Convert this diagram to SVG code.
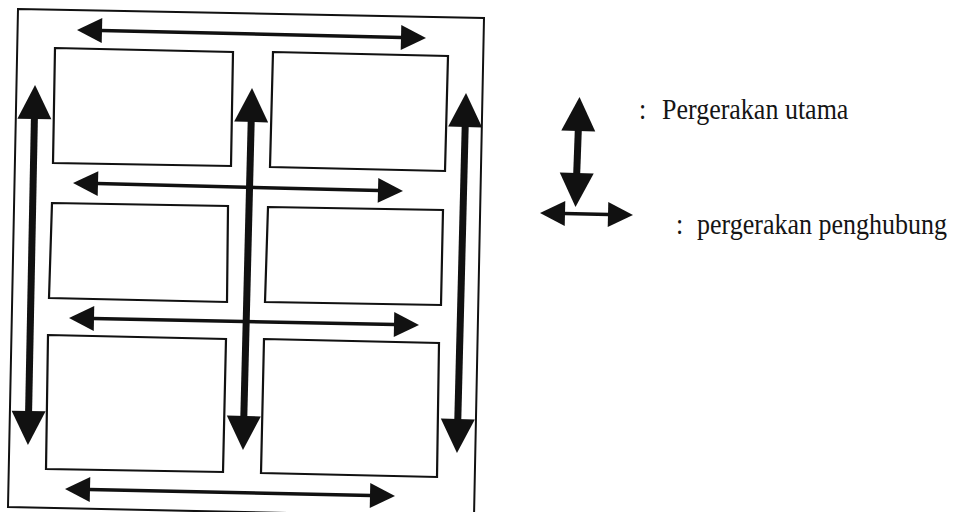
<svg xmlns="http://www.w3.org/2000/svg" width="955" height="512" viewBox="0 0 955 512">
<defs>
<style>
.frame{fill:none;stroke:#111;stroke-width:2}
.box{fill:#fff;stroke:#111;stroke-width:2.2;stroke-linejoin:miter}
.thin{stroke:#111;stroke-width:3.5;fill:none;marker-start:url(#headS);marker-end:url(#headS)}
.thick{stroke:#111;stroke-width:7;fill:none;marker-start:url(#headL);marker-end:url(#headL)}
.lbl{font-family:"Liberation Serif","Times New Roman",serif;font-size:26px;fill:#151515}
</style>
<marker id="headS" markerUnits="userSpaceOnUse" orient="auto-start-reverse" refX="0" refY="0" markerWidth="30" markerHeight="30" overflow="visible">
<path d="M-1,-12.5 L24,0 L-1,12.5 Z" fill="#111"/>
</marker>
<marker id="headL" markerUnits="userSpaceOnUse" orient="auto-start-reverse" refX="0" refY="0" markerWidth="40" markerHeight="40" overflow="visible">
<path d="M-1,-17 L33,0 L-1,17 Z" fill="#111"/>
</marker>
</defs>
<rect width="955" height="512" fill="#fff"/>
<polygon class="frame" points="18,9 484,18 474,517 8,507"/>
<g id="box1"><polygon class="box" points="55,48 233,52 231,166 53,163"/></g>
<g id="box2"><polygon class="box" points="273,52 448,56 445,171 270,167"/></g>
<g id="box3"><polygon class="box" points="52,203 228,206 227,302 49,298"/></g>
<g id="box4"><polygon class="box" points="268,207 443,210 441,305 265,302"/></g>
<g id="box5"><polygon class="box" points="48,335 226,339 223,472 46,469"/></g>
<g id="box6"><polygon class="box" points="264,339 439,343 437,477 261,473"/></g>
<g id="connectors">
<line class="thin" x1="101" y1="30.5" x2="402" y2="37.5"/>
<line class="thin" x1="97" y1="183.6" x2="379" y2="190.4"/>
<line class="thin" x1="93" y1="318.5" x2="395" y2="324.5"/>
<line class="thin" x1="89" y1="489.5" x2="371" y2="495.5"/>
<line class="thick" x1="34.4" y1="118" x2="28.6" y2="412"/>
<line class="thick" x1="251.2" y1="121" x2="243.8" y2="417"/>
<line class="thick" x1="465.2" y1="126" x2="457.8" y2="420"/>
</g>
<g id="legend-main">
<line class="thick" x1="578.3" y1="130" x2="576.7" y2="174"/>
<g transform="translate(0,119) scale(1,1.15)">
<text class="lbl" x="639" y="0">:</text>
<text class="lbl" x="662" y="0">Pergerakan utama</text>
</g>
</g>
<g id="legend-link">
<line class="thin" x1="564" y1="213.5" x2="609" y2="214.5"/>
<g transform="translate(0,234) scale(1,1.15)">
<text class="lbl" x="676" y="0">:</text>
<text class="lbl" x="697" y="0">pergerakan penghubung</text>
</g>
</g>
</svg>
